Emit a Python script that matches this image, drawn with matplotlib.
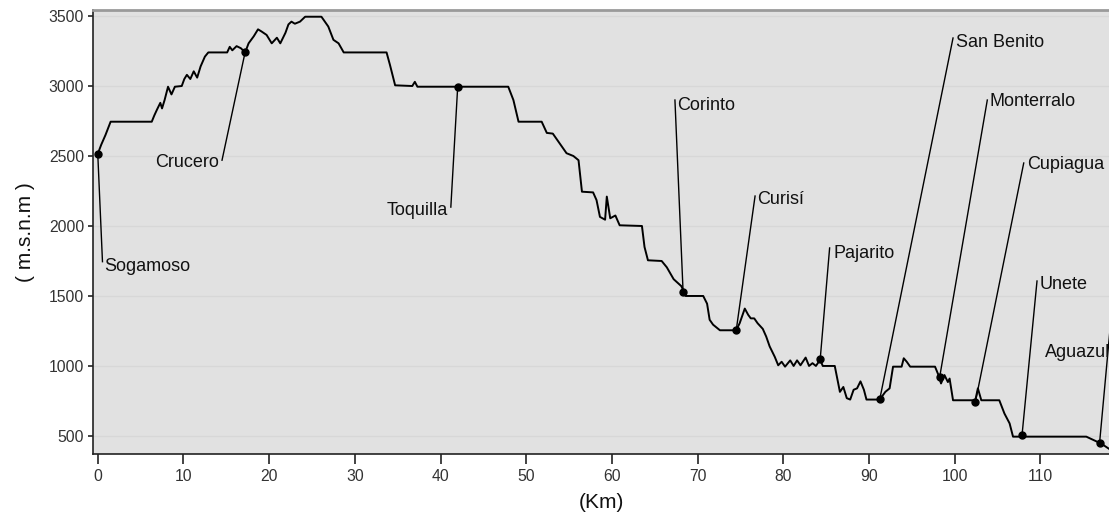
import matplotlib
matplotlib.use("Agg")
import matplotlib.pyplot as plt

plt.rcParams['font.family'] = ['Liberation Sans', 'DejaVu Sans']

# elevation profile (km, m.s.n.m)
km = [0, 0.4, 0.9, 1.5, 6.3, 6.6, 6.9, 7.3, 7.5, 7.8, 8.2, 8.6, 9.0, 9.8, 10.1,
      10.4, 10.8, 11.2, 11.6, 12.0, 12.5, 12.9, 15.1, 15.4, 15.7, 16.2, 16.7,
      17.2, 17.6, 18.2, 18.7, 19.1, 19.7, 20.3, 20.9, 21.3, 21.9, 22.25, 22.6,
      23.0, 23.6, 24.2, 26.1, 26.9, 27.5, 28.1, 28.7, 33.7, 34.1, 34.7, 36.7,
      37.0, 37.3, 47.9, 48.5, 49.1, 51.8, 52.4, 53.1, 53.9, 54.7, 55.5, 56.1,
      56.5, 57.8, 58.2, 58.6, 59.2, 59.4, 59.8, 60.4, 60.9, 63.5, 63.8, 64.2,
      65.8, 66.4, 67.2, 68.1, 68.4, 68.6, 70.65, 71.1, 71.4, 71.8, 72.6, 74.5,
      74.9, 75.5, 75.9, 76.2, 76.6, 77.0, 77.6, 78.0, 78.4, 79.0, 79.4, 79.8,
      80.2, 80.8, 81.2, 81.6, 82.0, 82.6, 83.0, 83.4, 83.8, 84.3, 84.6, 86.0,
      86.4, 86.6, 87.0, 87.4, 87.8, 88.2, 88.6, 89.0, 89.4, 89.7, 91.25, 91.9,
      92.4, 92.8, 93.8, 94.05, 94.4, 94.8, 97.7, 98.1, 98.4, 98.8, 99.2, 99.4,
      99.8, 102.4, 102.7, 103.1, 105.2, 105.8, 106.4, 106.8, 115.35, 117.1,
      118.2]
elev = [2515, 2580, 2650, 2745, 2745, 2790, 2830, 2880, 2840, 2900, 2995, 2940,
        2995, 3000, 3050, 3080, 3050, 3105, 3060, 3140, 3210, 3240, 3240, 3280,
        3255, 3285, 3270, 3240, 3305, 3355, 3405, 3390, 3365, 3305, 3345, 3305,
        3380, 3440, 3460, 3445, 3460, 3495, 3495, 3425, 3330, 3305, 3240, 3240,
        3150, 3005, 3000, 3030, 2995, 2995, 2900, 2745, 2745, 2665, 2660, 2590,
        2520, 2500, 2470, 2245, 2240, 2185, 2065, 2045, 2210, 2055, 2075, 2005,
        2000, 1850, 1755, 1750, 1705, 1620, 1570, 1530, 1500, 1500, 1445, 1330,
        1295, 1255, 1255, 1305, 1410, 1365, 1340, 1340, 1305, 1265, 1210, 1140,
        1065, 1005, 1030, 995, 1040, 1000, 1040, 1005, 1060, 1000, 1020, 1000,
        1045, 1000, 1000, 875, 815, 850, 770, 760, 830, 840, 890, 830, 760, 760,
        815, 840, 995, 995, 1055, 1030, 995, 995, 935, 875, 935, 885, 910, 755,
        755, 840, 755, 755, 660, 590, 495, 495, 445, 400]

# towns along the road
towns = ['Sogamoso', 'Crucero', 'Toquilla', 'Corinto', 'Curisí', 'Pajarito',
         'San Benito', 'Monterralo', 'Cupiagua', 'Unete', 'Aguazul']
town_km = [0.0, 17.2, 42.0, 68.3, 74.5, 84.3, 91.25, 98.25, 102.4, 107.85, 116.9]
town_elev = [2515, 3243, 2995, 1531, 1255, 1048, 762, 924, 740, 505, 450]

# label layout: end of leader line, text anchor, alignment
tip_xy = [(0.55, 1745), (14.5, 2470), (41.2, 2135), (67.35, 2900),
          (76.7, 2214), (85.4, 1843), (99.8, 3343), (103.8, 2900),
          (108.05, 2450), (109.6, 1607), (118.4, 1450)]
text_xy = [(0.8, 1712), (14.2, 2455), (40.9, 2114), (67.6, 2864),
           (76.9, 2186), (85.8, 1800), (100.1, 3314), (104.1, 2886),
           (108.4, 2436), (109.9, 1579), (110.5, 1093)]
text_ha = ['left', 'right', 'right', 'left', 'left', 'left', 'left', 'left',
           'left', 'left', 'left']

fig = plt.figure(figsize=(11.09, 5.27), dpi=100)
ax = fig.add_axes([0.0839, 0.1385, 0.9161, 0.8425])
ax.set_facecolor('#e1e1e1')
ax.grid(axis='y', color='#d7d7d7', linewidth=1.0)
ax.set_axisbelow(True)

ax.plot(km, elev, color='black', linewidth=1.4, zorder=3)

for i, name in enumerate(towns):
    ax.plot([town_km[i], tip_xy[i][0]], [town_elev[i], tip_xy[i][1]],
            color='black', linewidth=1.0, zorder=4)
    ax.plot(town_km[i], town_elev[i], 'o', color='black', markersize=5, zorder=5)
    ax.text(text_xy[i][0], text_xy[i][1], name, ha=text_ha[i], va='center',
            fontsize=13, color='#111111', zorder=6)

ax.set_xlim(-0.55, 118.0)
ax.set_ylim(371, 3543)
ax.set_xticks(range(0, 111, 10))
ax.set_yticks(range(500, 3501, 500))

ax.spines['right'].set_visible(False)
ax.spines['top'].set_color('#9a9a9a')
ax.spines['top'].set_linewidth(2.0)
ax.spines['left'].set_color('#222222')
ax.spines['bottom'].set_color('#222222')
ax.spines['left'].set_linewidth(1.2)
ax.spines['bottom'].set_linewidth(1.2)
ax.tick_params(axis='x', length=7, width=1.2, color='#222222', labelsize=11.3,
               labelcolor='#333333', pad=4)
ax.tick_params(axis='y', length=3.5, width=1.2, color='#222222', labelsize=11.3,
               labelcolor='#333333', pad=3)

ax.set_xlabel('(Km)', fontsize=15, color='#111111', labelpad=6)
ax.set_ylabel('( m.s.n.m )', fontsize=15, color='#111111', labelpad=10)

fig.savefig('out.png', dpi=100)
